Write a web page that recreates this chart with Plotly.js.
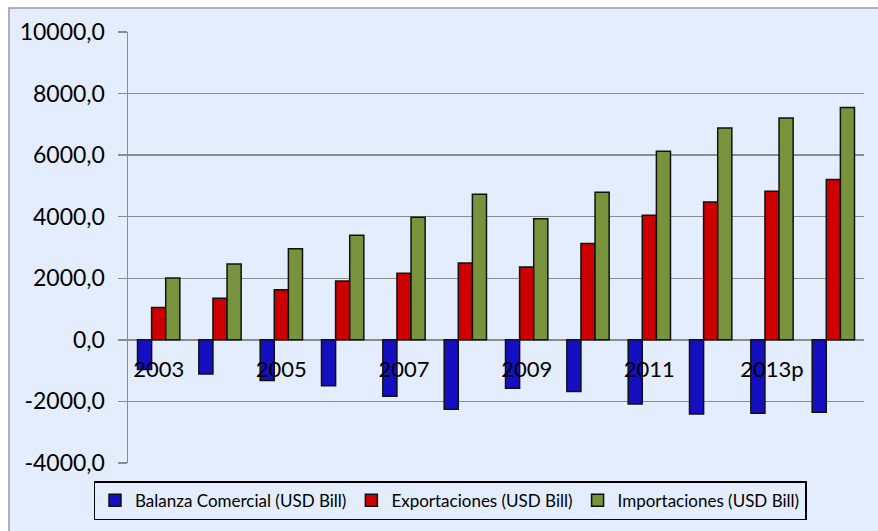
<!DOCTYPE html>
<html>
<head>
<meta charset="utf-8">
<script src="https://cdn.plot.ly/plotly-3.0.1.min.js"></script>
<style>
  html, body { margin: 0; padding: 0; background: #ffffff; }
  #chart { width: 878px; height: 531px; }
</style>
</head>
<body>
<div id="chart"></div>
<script>
// Years (category labels) and the three series, in USD Bill
let years = ["2003", "2004", "2005", "2006", "2007", "2008", "2009", "2010", "2011", "2012", "2013p", "2014p"];
let balanza = [-960, -1110, -1320, -1490, -1830, -2250, -1570, -1680, -2080, -2410, -2380, -2350];
let exportaciones = [1050, 1350, 1630, 1910, 2160, 2495, 2365, 3130, 4050, 4480, 4830, 5205];
let importaciones = [2010, 2460, 2960, 3400, 3985, 4730, 3930, 4795, 6125, 6880, 7205, 7550];

// Axis ticks
let yTicks = [-4000, -2000, 0, 2000, 4000, 6000, 8000, 10000];
let yTickText = ["-4000,0", "-2000,0", "0,0", "2000,0", "4000,0", "6000,0", "8000,0", "10000,0"];
let xTicks = ["2003", "2005", "2007", "2009", "2011", "2013p"];

let font = "Lato, 'Open Sans', sans-serif";
let outline = { color: "#111111", width: 1.5 };

function barTrace(name, values, color) {
    return {
        type: "bar",
        name: name,
        x: years,
        y: values,
        marker: { color: color, line: outline },
        hoverinfo: "x+y"
    };
}

let traces = [
    barTrace("Balanza Comercial (USD Bill)", balanza, "#1410C2"),
    barTrace("Exportaciones (USD Bill)", exportaciones, "#CC0000"),
    barTrace("Importaciones (USD Bill)", importaciones, "#77933C")
];

let layout = {
    width: 878,
    height: 531,
    margin: { l: 128, r: 14, t: 32, b: 67 },
    paper_bgcolor: "#ffffff",
    plot_bgcolor: "rgba(0,0,0,0)",
    font: { family: font, color: "#000000" },
    barmode: "group",
    bargap: 0.31,
    bargroupgap: 0,
    showlegend: true,
    legend: {
        orientation: "h",
        x: 0.4375,
        xanchor: "center",
        y: -0.04,
        yanchor: "top",
        bgcolor: "rgba(0,0,0,0)",
        bordercolor: "#000000",
        borderwidth: 1.5,
        font: { family: font, size: 17, color: "#000000" },
        itemwidth: 30,
        traceorder: "normal"
    },
    xaxis: {
        type: "category",
        categoryorder: "array",
        categoryarray: years,
        anchor: "free",
        position: 4000 / 14000,
        tickmode: "array",
        tickvals: xTicks,
        ticktext: xTicks,
        ticks: "",
        ticklabelstandoff: 14,
        showline: false,
        showgrid: false,
        zeroline: false,
        tickfont: { family: font, size: 22, color: "#000000" }
    },
    yaxis: {
        range: [-4000, 10000],
        tickmode: "array",
        tickvals: yTicks,
        ticktext: yTickText,
        ticks: "outside",
        ticklen: 9,
        tickwidth: 1.5,
        tickcolor: "#8c8c8c",
        ticklabelstandoff: 8,
        showline: true,
        linecolor: "#8c8c8c",
        linewidth: 1.5,
        showgrid: true,
        gridcolor: "#8c8c8c",
        gridwidth: 1.5,
        zeroline: true,
        zerolinecolor: "#8c8c8c",
        zerolinewidth: 1.5,
        tickfont: { family: font, size: 23, color: "#000000" }
    },
    shapes: [{
        type: "rect",
        xref: "paper",
        yref: "paper",
        x0: -0.1617,
        x1: 1.06,
        y0: -0.2,
        y1: 1.0556,
        layer: "below",
        fillcolor: "#E4EDFD",
        line: { color: "#9a9a9a", width: 1.5 }
    }]
};

Plotly.newPlot("chart", traces, layout, { displayModeBar: false, staticPlot: true });
</script>
</body>
</html>
